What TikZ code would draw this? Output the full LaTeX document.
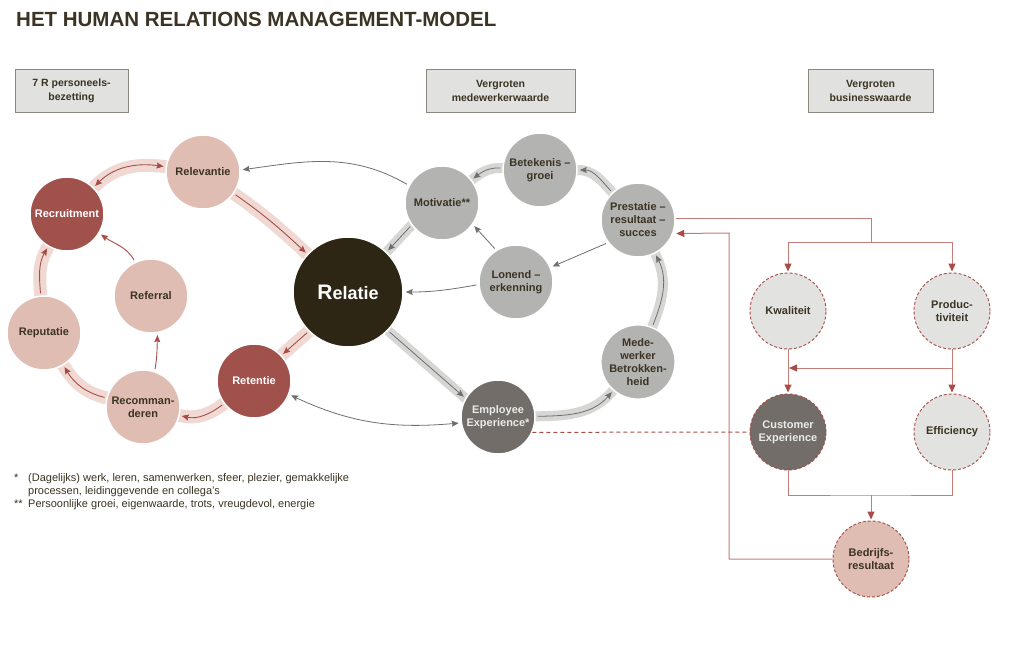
\documentclass[tikz,border=0pt]{standalone}
\usepackage{fontspec}
\setmainfont{Liberation Sans}
\usetikzlibrary{arrows.meta,backgrounds}
\definecolor{ink}{HTML}{3B3323}
\definecolor{darkred}{HTML}{A0514B}
\definecolor{pinkfill}{HTML}{E0BDB2}
\definecolor{pinkband}{HTML}{F1D9D3}
\definecolor{redline}{HTML}{A84C48}
\definecolor{relfill}{HTML}{2E2614}
\definecolor{grayfill}{HTML}{B3B3B1}
\definecolor{grayband}{HTML}{D6D6D4}
\definecolor{grayarrow}{HTML}{6F6F6F}
\definecolor{darkgray}{HTML}{726D68}
\definecolor{lightfill}{HTML}{E2E2E0}
\definecolor{boxfill}{HTML}{E1E1DF}
\definecolor{boxline}{HTML}{8C887E}
\definecolor{connline}{HTML}{C47C77}
\begin{document}
\begin{tikzpicture}[x=1pt,y=1pt,
  circ/.style={circle, minimum size=74pt, inner sep=0pt, align=center,
    font=\fontsize{11}{13}\selectfont\bfseries, text=ink, draw=white, line width=1.5pt},
  pinkc/.style={circ, fill=pinkfill},
  redc/.style={circ, fill=darkred, text=white},
  grayc/.style={circ, fill=grayfill},
  dgrayc/.style={circ, fill=darkgray, text=white!92!black},
  dashc/.style={circ, minimum size=76pt, draw=redline, dash pattern=on 3pt off 2pt, line width=0.9pt},
  band/.style={line width=13pt, draw=pinkband},
  gband/.style={line width=10pt, draw=grayband},
  rarr/.style={draw=redline, line width=0.9pt, -{Stealth[length=7pt,width=6pt,inset=1pt]}, shorten <=2pt, shorten >=2pt},
  rdarr/.style={draw=redline, line width=0.9pt, {Stealth[length=7pt,width=6pt,inset=1pt]}-{Stealth[length=7pt,width=6pt,inset=1pt]}, shorten <=2pt, shorten >=2pt},
  garr/.style={draw=grayarrow, line width=0.8pt, -{Stealth[length=7pt,width=6pt,inset=1pt]}, shorten <=2pt, shorten >=2pt},
  gdarr/.style={draw=grayarrow, line width=0.8pt, {Stealth[length=7pt,width=6pt,inset=1pt]}-{Stealth[length=7pt,width=6pt,inset=1pt]}, shorten <=2pt, shorten >=2pt},
  conn/.style={draw=connline, line width=1pt},
  carr/.style={conn, -{Triangle[length=8pt,width=7pt,color=redline]}, shorten >=1pt},
  hdrbox/.style={draw=boxline, fill=boxfill, line width=0.8pt, minimum height=43pt, inner sep=0pt,
    align=center, font=\fontsize{10.5}{14}\selectfont\bfseries, text=ink}
]
\useasboundingbox (0,0) rectangle (1024,-650);

% title
\node[anchor=base west, inner sep=0pt, font=\fontsize{20.5}{24}\selectfont\bfseries, text=ink] (title) at (16,-26.5) {HET HUMAN RELATIONS MANAGEMENT-MODEL};

% header boxes
\node[hdrbox, minimum width=113pt] (box1) at (71.5,-90.5) {7 R personeels-\\bezetting};
\node[hdrbox, minimum width=149pt] (box2) at (500.5,-90.5) {Vergroten\\medewerkerwaarde};
\node[hdrbox, minimum width=125pt] (box3) at (870.5,-90.5) {Vergroten\\businesswaarde};

% left cycle
\node[pinkc] (relevantie) at (203,-172) {Relevantie};
\node[redc] (recruitment) at (67,-214) {Recruitment};
\node[pinkc] (referral) at (151,-296) {Referral};
\node[pinkc] (reputatie) at (44,-333) {Reputatie};
\node[pinkc] (recomm) at (143,-407) {Recomman-\\deren};
\node[redc] (retentie) at (254,-381) {Retentie};

% centre
\node[circle, minimum size=110pt, inner sep=0pt, fill=relfill, draw=white, line width=1.5pt, text=white,
  font=\fontsize{18}{20}\selectfont\bfseries] (relatie) at (348,-292) {{\fontsize{21}{20}\selectfont R}elatie};

% right cycle
\node[grayc] (motivatie) at (442,-203) {Motivatie**};
\node[grayc] (betekenis) at (540,-170) {Betekenis --\\groei};
\node[grayc] (prestatie) at (638,-220) {Prestatie --\\resultaat --\\succes};
\node[grayc] (lonend) at (516,-282) {Lonend --\\erkenning};
\node[grayc] (medewerker) at (638,-362) {Mede-\\werker\\Betrokken-\\heid};
\node[dgrayc] (ee) at (498,-417) {Employee\\Experience*};

% business value
\node[dashc, fill=lightfill] (kwaliteit) at (788,-311) {Kwaliteit};
\node[dashc, fill=lightfill] (productiviteit) at (952,-311) {Produc-\\tiviteit};
\node[dashc, fill=darkgray, text=white!92!black] (custexp) at (788,-432) {Customer\\Experience};
\node[dashc, fill=lightfill] (efficiency) at (952,-432) {Efficiency};
\node[dashc, fill=pinkfill] (bedrijf) at (871,-559) {Bedrijfs-\\resultaat};

% bands on background
\begin{scope}[on background layer]
\fill[white] (0,0) rectangle (1024,-650);
\draw[band] (relevantie.center) -- (relevantie.-35) to[out=-35,in=137] (relatie.137) -- (relatie.center);
\draw[band] (relevantie.center) -- (relevantie.172) to[out=172,in=45] (recruitment.45) -- (recruitment.center);
\draw[band] (reputatie.center) -- (reputatie.95) to[out=95,in=240] (recruitment.240) -- (recruitment.center);
\draw[band] (recomm.center) -- (recomm.166) to[out=166,in=-59] (reputatie.-59) -- (reputatie.center);
\draw[band] (retentie.center) -- (retentie.217) to[out=217,in=-13] (recomm.-13) -- (recomm.center);
\draw[band] (relatie.center) -- (relatie.225) -- (retentie.43) -- (retentie.center);
\draw[gband] (relatie.center) -- (relatie.-44) -- (ee.150) -- (ee.center);
\draw[gband] (ee.center) -- (ee.1) to[out=1,in=229] (medewerker.229) -- (medewerker.center);
\draw[gband] (medewerker.center) -- (medewerker.68) to[out=68,in=-63] (prestatie.-63) -- (prestatie.center);
\draw[gband] (prestatie.center) -- (prestatie.133) to[out=133,in=0] (betekenis.0) -- (betekenis.center);
\draw[gband] (betekenis.center) -- (betekenis.177) to[out=177,in=38] (motivatie.38) -- (motivatie.center);
\draw[gband] (motivatie.center) -- (motivatie.216) -- (relatie.46) -- (relatie.center);
\end{scope}

% left cycle arrows
\draw[rarr] (relevantie.-35) to[out=-35,in=137] (relatie.137);
\draw[rdarr] (relevantie.172) to[out=172,in=45] (recruitment.45);
\draw[rarr] (reputatie.95) to[out=95,in=240] (recruitment.240);
\draw[rarr] (recomm.166) to[out=166,in=-59] (reputatie.-59);
\draw[rarr] (retentie.217) to[out=217,in=-13] (recomm.-13);
\draw[rarr] (relatie.225) -- (retentie.43);
\draw[rarr] (recomm.72) to[out=80,in=-92] (referral.-80);
\draw[rarr] (referral.115) to[out=120,in=-35] (recruitment.-31);

% right cycle arrows
\draw[garr] (relatie.-44) -- (ee.150);
\draw[garr] (ee.1) to[out=1,in=229] (medewerker.229);
\draw[garr] (medewerker.68) to[out=68,in=-63] (prestatie.-63);
\draw[garr] (prestatie.133) to[out=133,in=0] (betekenis.0);
\draw[garr] (betekenis.177) to[out=177,in=38] (motivatie.38);
\draw[garr] (motivatie.216) -- (relatie.46);
\draw[garr] (motivatie.152) to[out=150,in=8] (relevantie.3);
\draw[garr] (lonend.184) to[out=190,in=0] (relatie.0);
\draw[garr] (lonend.122) -- (motivatie.-35);
\draw[garr] (prestatie.217) -- (lonend.23);
\draw[gdarr] (ee.189) to[out=185,in=-25] (retentie.-21);

% business value connectors
\coordinate (split) at (871,-242);
\coordinate (hsplit) at (952,-368);
\coordinate (join) at (871,-495);
\coordinate (back) at (729,-233);
\draw[conn] (prestatie.3) -| (split);
\draw[carr] (split) -| (kwaliteit.north);
\draw[carr] (split) -| (productiviteit.north);
\draw[carr] (kwaliteit.south) -- (custexp.north);
\draw[carr] (productiviteit.south) -- (efficiency.north);
\draw[carr] (hsplit) -- (kwaliteit.south |- hsplit);
\draw[conn] (custexp.south) |- (join) -| (efficiency.south);
\draw[carr] (join) -- (bedrijf.north);
\draw[carr, shorten >=3pt] (bedrijf.west) -| (back) -- (prestatie.-21);
\draw[draw=redline, line width=1pt, dash pattern=on 4pt off 3pt] (ee.-24) -- (custexp.west);

% footnotes
\node[anchor=north west, inner sep=0pt, text=ink, font=\fontsize{11}{13}\selectfont] (notes) at (14,-472)
{\begin{tabular}{@{}p{14pt}@{}l@{}}
{*}  & (Dagelijks) werk, leren, samenwerken, sfeer, plezier, gemakkelijke\\
     & processen, leidinggevende en collega’s\\
{**} & Persoonlijke groei, eigenwaarde, trots, vreugdevol, energie
\end{tabular}};
\end{tikzpicture}
\end{document}
